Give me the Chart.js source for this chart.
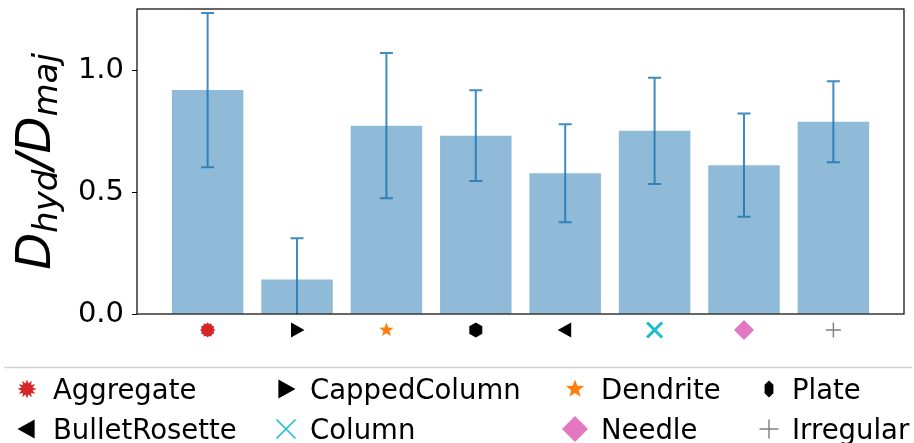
<!DOCTYPE html>
<html>
<head>
<meta charset="utf-8">
<script src="https://cdn.jsdelivr.net/npm/chart.js@4.4.1/dist/chart.umd.min.js"></script>
<style>
  html, body { margin: 0; padding: 0; background: #fff; }
  #wrap { width: 914px; height: 443px; position: relative; }
</style>
</head>
<body>
<div id="wrap"><canvas id="chart"></canvas></div>
<script>
// habit types, in bar order
var categories = ['Aggregate', 'CappedColumn', 'Dendrite', 'Plate', 'BulletRosette', 'Column', 'Needle', 'Irregular'];
// mean D_hyd / D_maj and its spread
var ratioMean = [0.919, 0.142, 0.773, 0.732, 0.578, 0.752, 0.611, 0.789];
var ratioErr = [0.317, 0.169, 0.298, 0.186, 0.201, 0.218, 0.212, 0.166];
// marker used for each habit on the axis and in the legend
var markerShapes = ['burst', 'triRight', 'star', 'hexagon', 'triLeft', 'cross', 'diamond', 'plus'];
var markerColors = ['#d62728', '#000000', '#ff7f0e', '#000000', '#000000', '#17becf', '#e377c2', '#7f7f7f'];
var yTickStep = 0.5;

var FONT = "'DejaVu Sans', sans-serif";

function drawMarker(ctx, shape, x, y, r, color, big) {
  ctx.save();
  ctx.fillStyle = color;
  ctx.strokeStyle = color;
  ctx.beginPath();
  var i, a;
  if (shape === 'burst') {
    var n = 12, inner = big ? r * 0.6 : r * 0.82;
    for (i = 0; i < n * 2; i++) {
      a = -Math.PI / 2 + i * Math.PI / n;
      var rr = i % 2 === 0 ? r : inner;
      ctx.lineTo(x + rr * Math.cos(a), y + rr * Math.sin(a));
    }
    ctx.closePath();
    ctx.fill();
  } else if (shape === 'star') {
    for (i = 0; i < 10; i++) {
      a = -Math.PI / 2 + i * Math.PI / 5;
      var sr = i % 2 === 0 ? r : r * 0.42;
      ctx.lineTo(x + sr * Math.cos(a), y + sr * Math.sin(a));
    }
    ctx.closePath();
    ctx.fill();
  } else if (shape === 'triRight') {
    ctx.moveTo(x + r, y);
    ctx.lineTo(x - r * 0.8, y - r);
    ctx.lineTo(x - r * 0.8, y + r);
    ctx.closePath();
    ctx.fill();
  } else if (shape === 'triLeft') {
    ctx.moveTo(x - r, y);
    ctx.lineTo(x + r * 0.8, y - r);
    ctx.lineTo(x + r * 0.8, y + r);
    ctx.closePath();
    ctx.fill();
  } else if (shape === 'hexagon') {
    var sx = big ? 0.6 : 1;
    for (i = 0; i < 6; i++) {
      a = -Math.PI / 2 + i * Math.PI / 3;
      ctx.lineTo(x + r * sx * Math.cos(a), y + r * Math.sin(a));
    }
    ctx.closePath();
    ctx.fill();
  } else if (shape === 'diamond') {
    ctx.moveTo(x, y - r);
    ctx.lineTo(x + r, y);
    ctx.lineTo(x, y + r);
    ctx.lineTo(x - r, y);
    ctx.closePath();
    ctx.fill();
  } else if (shape === 'cross') {
    ctx.lineWidth = big ? 1.6 : 3;
    ctx.moveTo(x - r, y - r); ctx.lineTo(x + r, y + r);
    ctx.moveTo(x - r, y + r); ctx.lineTo(x + r, y - r);
    ctx.stroke();
  } else if (shape === 'plus') {
    ctx.lineWidth = 1.4;
    ctx.moveTo(x - r, y); ctx.lineTo(x + r, y);
    ctx.moveTo(x, y - r); ctx.lineTo(x, y + r);
    ctx.stroke();
  }
  ctx.restore();
}

// error bars, frame, axis markers, y title and legend
var extrasPlugin = {
  id: 'extras',
  afterDatasetsDraw: function (chart) {
    var ctx = chart.ctx, area = chart.chartArea;
    var xs = chart.scales.x, ys = chart.scales.y;
    ctx.save();
    ctx.beginPath();
    ctx.rect(area.left, area.top, area.right - area.left, area.bottom - area.top);
    ctx.clip();
    ctx.strokeStyle = 'rgba(31,119,180,0.85)';
    ctx.lineWidth = 2;
    ratioMean.forEach(function (m, i) {
      var px = xs.getPixelForValue(i);
      var top = ys.getPixelForValue(m + ratioErr[i]);
      var bot = ys.getPixelForValue(m - ratioErr[i]);
      ctx.beginPath();
      ctx.moveTo(px, top); ctx.lineTo(px, bot);
      ctx.moveTo(px - 6.5, top); ctx.lineTo(px + 6.5, top);
      ctx.moveTo(px - 6.5, bot); ctx.lineTo(px + 6.5, bot);
      ctx.stroke();
    });
    ctx.restore();
  },
  afterDraw: function (chart) {
    var ctx = chart.ctx, area = chart.chartArea;
    var xs = chart.scales.x;

    // full box frame
    ctx.save();
    ctx.strokeStyle = '#000';
    ctx.lineWidth = 1.2;
    ctx.strokeRect(area.left, area.top, area.right - area.left, area.bottom - area.top);
    ctx.restore();

    // markers as x tick labels
    categories.forEach(function (c, i) {
      var px = xs.getPixelForValue(i);
      var r = markerShapes[i] === 'diamond' ? 10 : 7.5;
      drawMarker(ctx, markerShapes[i], px, area.bottom + 16, r, markerColors[i], false);
    });

    // y title D_hyd / D_maj
    ctx.save();
    var cy = (area.top + area.bottom) / 2;
    ctx.translate(50, cy);
    ctx.rotate(-Math.PI / 2);
    ctx.fillStyle = '#000';
    ctx.textBaseline = 'alphabetic';
    var big = 'oblique 48px ' + FONT, small = 'oblique 34px ' + FONT;
    var parts = [
      { t: 'D', f: big, dy: 0 },
      { t: 'hyd', f: small, dy: 7 },
      { t: '/', f: big, dy: 0 },
      { t: 'D', f: big, dy: 0 },
      { t: 'maj', f: small, dy: 7 }
    ];
    var total = 0;
    parts.forEach(function (p) { ctx.font = p.f; p.w = ctx.measureText(p.t).width; total += p.w; });
    var cx = -total / 2;
    parts.forEach(function (p) {
      ctx.font = p.f;
      ctx.fillText(p.t, cx, p.dy);
      cx += p.w;
    });
    ctx.restore();

    // legend
    ctx.save();
    ctx.strokeStyle = '#d3d3d3';
    ctx.lineWidth = 1.5;
    ctx.beginPath();
    ctx.moveTo(4, 367.5); ctx.lineTo(912, 367.5);
    ctx.stroke();
    var markX = [27, 286, 575, 769];
    var textX = [53, 310, 601, 792];
    var rowY = [389, 429];
    ctx.font = '27.5px ' + FONT;
    ctx.fillStyle = '#000';
    ctx.textBaseline = 'alphabetic';
    categories.forEach(function (c, i) {
      var col = i % 4, row = Math.floor(i / 4);
      var shape = markerShapes[i];
      var r = shape === 'diamond' ? 13 : (shape === 'hexagon' ? 8.5 : 9.5);
      drawMarker(ctx, shape, markX[col], rowY[row], r, markerColors[i], true);
      ctx.fillStyle = '#000';
      ctx.fillText(c, textX[col], rowY[row] + 10);
    });
    ctx.restore();
  }
};

new Chart(document.getElementById('chart'), {
  type: 'bar',
  data: {
    datasets: [{
      data: ratioMean.map(function (m, i) { return { x: i, y: m }; }),
      backgroundColor: 'rgba(31,119,180,0.5)',
      borderWidth: 0,
      barPercentage: 0.8,
      categoryPercentage: 1.0
    }]
  },
  options: {
    responsive: true,
    maintainAspectRatio: false,
    animation: false,
    devicePixelRatio: 1,
    layout: { padding: { left: 0, top: 9, right: 10, bottom: 0 } },
    plugins: { legend: { display: false }, tooltip: { enabled: false } },
    scales: {
      x: {
        type: 'linear',
        min: -0.79,
        max: 7.79,
        offset: false,
        grid: { display: false },
        border: { display: false },
        ticks: { display: false, stepSize: 1, includeBounds: false },
        afterFit: function (s) { s.height = 129; s.paddingLeft = 0; s.paddingRight = 0; }
      },
      y: {
        min: 0,
        max: 1.252,
        grid: { display: true, drawOnChartArea: false, drawTicks: true, tickLength: 5, color: '#000' },
        border: { display: false },
        ticks: {
          stepSize: yTickStep,
          includeBounds: false,
          padding: 8,
          color: '#000',
          font: { family: FONT, size: 29 },
          callback: function (v) { return v.toFixed(1); }
        },
        afterFit: function (s) { s.width = 137; s.paddingTop = 0; s.paddingBottom = 0; }
      }
    }
  },
  plugins: [extrasPlugin]
});
</script>
</body>
</html>
